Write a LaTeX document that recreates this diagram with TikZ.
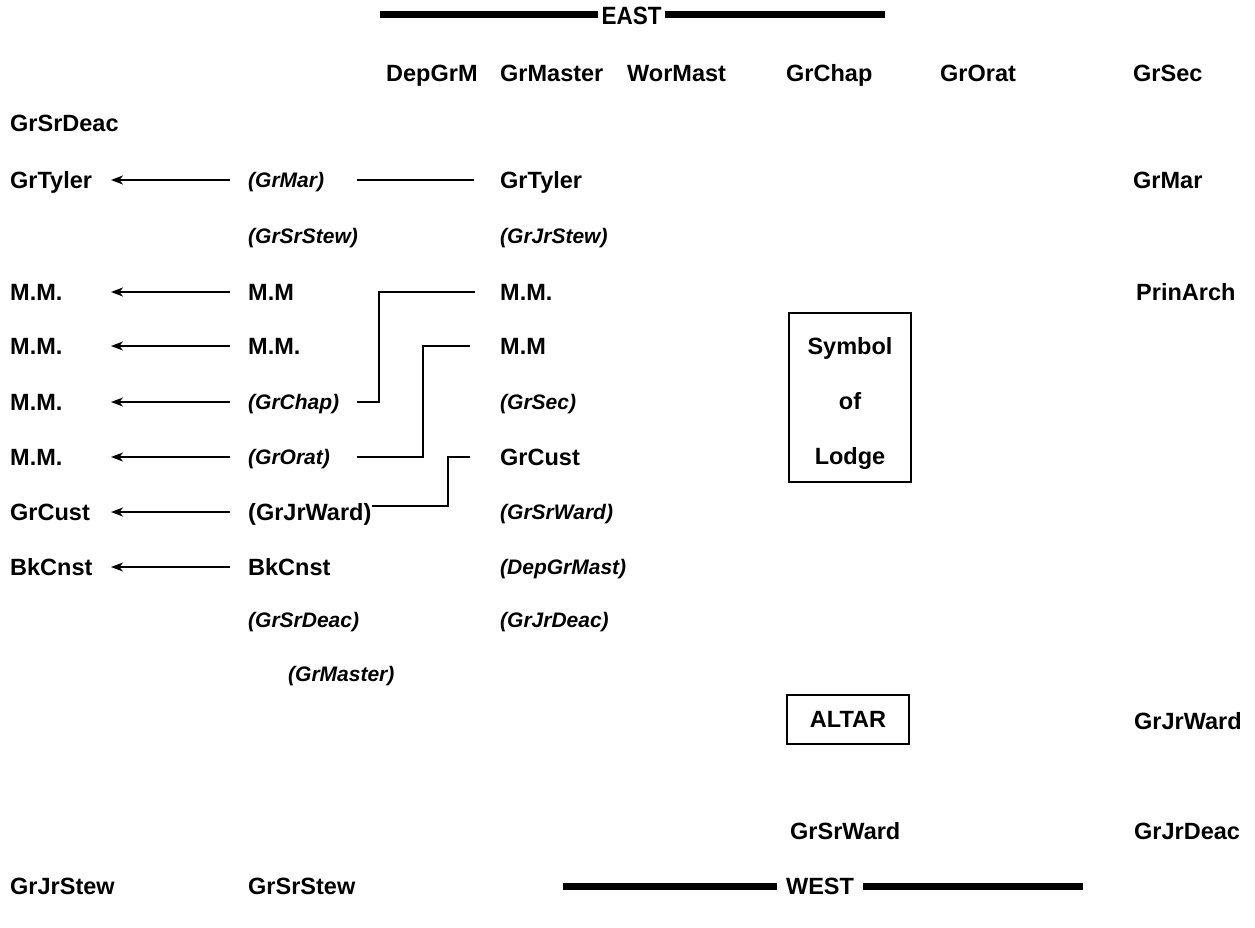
\documentclass[tikz,border=0pt]{standalone}
\usepackage{fontspec}
\setmainfont{Liberation Sans}
\usetikzlibrary{arrows.meta}
\begin{document}
\begin{tikzpicture}[x=1pt,y=-1pt,
  lab/.style={anchor=west, inner sep=0pt, text height=16.8pt, text depth=0pt, font=\fontsize{23.5}{28}\selectfont\bfseries},
  ilab/.style={anchor=west, inner sep=0pt, text height=15pt, text depth=0pt, font=\fontsize{21}{25}\selectfont\bfseries\itshape},
  ttl/.style={anchor=center, inner ysep=0pt, inner xsep=9pt, text height=16.8pt, text depth=0pt, font=\fontsize{23.5}{28}\selectfont\bfseries},
  conn/.style={line width=1.7pt},
  arr/.style={conn, -{Stealth[length=12pt,width=9pt,inset=3.5pt]}},
  bar/.style={line width=7pt},
  boxline/.style={line width=1.8pt},
  altarbox/.style={draw, line width=1.8pt, inner sep=0pt, minimum width=122pt, minimum height=49pt, text height=16.8pt, text depth=0pt, font=\fontsize{23.5}{28}\selectfont\bfseries},
  symtext/.style={inner sep=0pt, align=center, font=\fontsize{23.5}{55}\selectfont\bfseries}
]
\useasboundingbox (0,0) rectangle (1255,928);
% helper columns / rows
\coordinate (xtip) at (111,0);
\coordinate (xa) at (357,0);
\coordinate (xb) at (379,0);
\coordinate (xc) at (423,0);
\coordinate (xd) at (448,0);
\coordinate (yl) at (0,506);
% EAST
\node[ttl, font=\fontsize{25}{30}\selectfont\bfseries, text height=18pt, inner xsep=3pt] (east) at (631.5,16) {\scalebox{0.9}[1]{EAST}};
\coordinate (eL) at (380,15);
\coordinate (eR) at (885,15);
\draw[bar] (eL) -- (eL -| east.west);
\draw[bar] (east.east |- eR) -- (eR);
% top row
\node[lab] (t1) at (386,73) {DepGrM};
\node[lab] (t2) at (500,73) {GrMaster};
\node[lab] (t3) at (627,73) {WorMast};
\node[lab] (t4) at (786,73) {GrChap};
\node[lab] (t5) at (940,73) {GrOrat};
\node[lab] (t6) at (1133,73) {GrSec};
% column 0
\node[lab] (a0) at (10,123) {GrSrDeac};
\node[lab] (a1) at (10,180) {GrTyler};
\node[lab] (a3) at (10,292) {M.M.};
\node[lab] (a4) at (10,346) {M.M.};
\node[lab] (a5) at (10,402) {M.M.};
\node[lab] (a6) at (10,457) {M.M.};
\node[lab] (a7) at (10,512) {GrCust};
\node[lab] (a8) at (10,567) {BkCnst};
\node[lab] (a11) at (10,886) {GrJrStew};
% column 1
\node[ilab] (b1) at (248,180) {(GrMar)};
\node[ilab] (b2) at (248,236) {(GrSrStew)};
\node[lab] (b3) at (248,292) {M.M};
\node[lab] (b4) at (248,346) {M.M.};
\node[ilab] (b5) at (248,402) {(GrChap)};
\node[ilab] (b6) at (248,457) {(GrOrat)};
\node[lab] (b7) at (248,512) {(GrJrWard)};
\node[lab] (b8) at (248,567) {BkCnst};
\node[ilab] (b9) at (248,620) {(GrSrDeac)};
\node[ilab] (b10) at (288,674) {(GrMaster)};
\node[lab] (b11) at (248,886) {GrSrStew};
% column 2
\node[lab] (c1) at (500,180) {GrTyler};
\node[ilab] (c2) at (500,236) {(GrJrStew)};
\node[lab] (c3) at (500,292) {M.M.};
\node[lab] (c4) at (500,346) {M.M};
\node[ilab] (c5) at (500,402) {(GrSec)};
\node[lab] (c6) at (500,457) {GrCust};
\node[ilab] (c7) at (500,512) {(GrSrWard)};
\node[ilab] (c8) at (500,567) {(DepGrMast)};
\node[ilab] (c9) at (500,620) {(GrJrDeac)};
% right column
\node[lab] (d1) at (1133,180) {GrMar};
\node[lab] (d3) at (1136,292) {PrinArch};
\node[lab] (d7) at (1134,721) {GrJrWard};
\node[lab] (d9) at (1134,831) {GrJrDeac};
\node[lab] (e9) at (790,831) {GrSrWard};
% symbol of lodge
\node[symtext] (sym) at (850,403.3) {Symbol\\of\\Lodge};
\draw[boxline] ([shift={(-61,-90.3)}]sym.center) rectangle ([shift={(61,78.7)}]sym.center);
% altar
\node[altarbox] (altar) at (848,719.5) {ALTAR};
% WEST
\node[ttl] (west) at (820,886) {WEST};
\coordinate (wL) at (563,886);
\coordinate (wR) at (1083,886);
\draw[bar] (wL) -- (wL -| west.west);
\draw[bar] (west.east |- wR) -- (wR);
% arrows to column 0
\foreach \n in {b1,b3,b4,b5,b6,b7,b8}
  \draw[arr] (\n.west) ++(-18,0) -- (xtip |- \n.west);
% GrMar -- GrTyler
\draw[conn] (xa |- b1.west) -- ([xshift=-26pt]c1.west);
% elbows
\draw[conn] ([xshift=-25pt]c3.west) -| (xb |- b5.west) -- (xa |- b5.west);
\draw[conn] ([xshift=-30pt]c4.west) -| (xc |- b6.west) -- (xa |- b6.west);
\draw[conn] ([xshift=-30pt]c6.west) -| (xd |- yl) -- (b7.east |- yl);
\end{tikzpicture}
\end{document}
